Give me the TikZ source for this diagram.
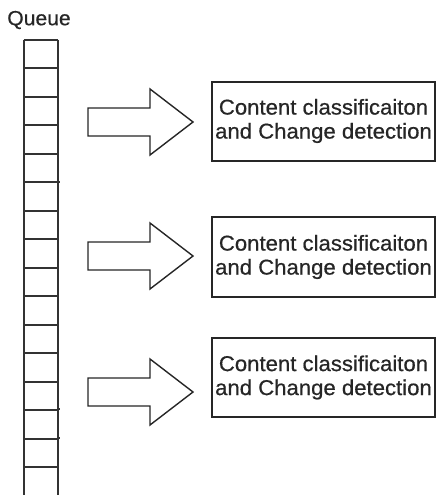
\documentclass[tikz,border=0pt]{standalone}
\usepackage{fontspec}
\setmainfont{Liberation Sans}[FakeBold=0.6,FakeStretch=1.03]
\begin{document}
\begin{tikzpicture}[x=1pt,y=-1pt,
  qline/.style={draw=black!80,line width=2pt},
  procbox/.style={draw=black!85,line width=2pt,minimum width=223pt,minimum height=79pt,inner sep=0pt,align=center,
    font=\fontsize{21.5}{24}\selectfont,text=black!85},
  bigarrow/.style={draw=black!85,line width=1.4pt,line join=miter,fill=white}]
\useasboundingbox (0,0) rectangle (436,495);
\node[font=\fontsize{20.5}{22}\selectfont,text=black!85] (qlabel) at (39,20) {Queue};
% queue
\coordinate (qtl) at (23.5,40);
\coordinate (qtr) at (58,40);
\coordinate (qbl) at (23.5,495);
\coordinate (qbr) at (58,495);
\draw[qline] (qtl) -- (qbl);
\draw[qline] (qtr) -- (qbr);
\foreach \k in {0,...,15}{
  \pgfmathsetmacro{\yy}{40+\k*28.47}
  \draw[qline] (23.5,\yy) -- (58,\yy);
}
\draw[qline] (58,182) -- (60,182);
\draw[qline] (58,409) -- (60,409);
\draw[qline] (58,438) -- (60,438);
% boxes
\node[procbox] (b1) at (323.5,121) {Content classificaiton\\and Change detection};
\node[procbox,minimum height=80pt] (b2) at (323.5,257) {Content classificaiton\\and Change detection};
\node[procbox] (b3) at (323.5,377.5) {Content classificaiton\\and Change detection};
% arrows
\foreach \c/\n in {122/a1,256/a2,392/a3}{
  \draw[bigarrow] (88,\c-14) -- (150,\c-14) -- (150,\c-33) -- (193,\c) -- (150,\c+33) -- (150,\c+14) -- (88,\c+14) -- cycle;
}
\end{tikzpicture}
\end{document}
